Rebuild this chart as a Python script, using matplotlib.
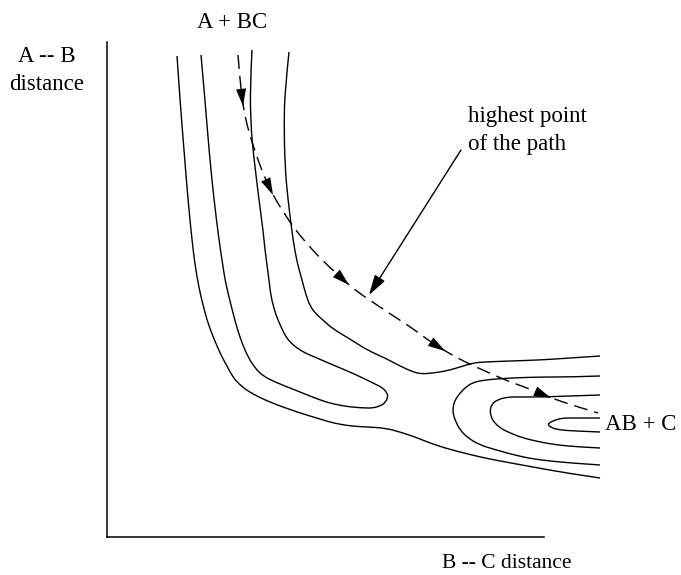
import numpy as np
import matplotlib
matplotlib.use("Agg")
import matplotlib.pyplot as plt
from matplotlib.path import Path
from matplotlib.patches import PathPatch

plt.rcParams['font.family'] = ['Liberation Serif', 'DejaVu Serif']

##
## Traced contour lines (x = B--C distance, y = A--B distance, picture units)
##
# outer contour, from the top down and out to the right
c1_x = [177, 180, 184, 188, 192, 195, 199, 203, 207, 212, 217, 222, 228, 233, 238, 245,
        253, 265, 280, 300, 320, 333, 350, 367, 385, 400, 415, 425, 433, 445, 460, 480,
        500, 533, 566, 600]
c1_y = [56, 100, 150, 200, 240, 265, 288, 305, 320, 334, 346, 357, 368, 377, 383, 389,
        394, 400, 406, 413, 419, 423, 426, 427, 428, 432, 437, 441, 444, 448, 452, 457,
        461, 467, 473, 478]

# the "finger": down one side, round the tip, back up the other
c2_x = [201, 205, 209, 214, 219, 222, 225, 229, 233, 237, 242, 248, 255, 263, 275, 290,
        305, 320, 333, 350, 365, 373, 380, 385, 388, 387, 383, 375, 367, 350, 333, 317,
        305, 297, 291, 286, 282, 278, 275, 271, 269, 267, 265, 263, 259, 255, 252, 251,
        250, 252]
c2_y = [55, 100, 150, 200, 240, 260, 280, 297, 313, 328, 343, 357, 368, 376, 382, 388,
        394, 400, 404, 407, 408, 408, 406, 403, 397, 393, 388, 384, 380, 372, 365, 358,
        353, 348, 343, 337, 329, 320, 312, 297, 280, 265, 250, 230, 200, 167, 140, 123,
        90, 50]

# contour running through the col
c4_x = [289, 285, 284, 285, 288, 293, 297, 302, 306, 310, 316, 324, 333, 350, 367, 385,
        400, 413, 422, 432, 440, 450, 460, 473, 483, 510, 540, 570, 600]
c4_y = [52, 90, 123, 167, 200, 240, 262, 280, 295, 306, 314, 321, 329, 339, 350, 358,
        366, 372, 374, 373, 372, 370, 367, 363, 362, 361, 360, 358, 356]

# the three contours of the AB + C valley
c5_x = [600, 570, 540, 510, 483, 472, 466, 460, 455, 453, 453, 455, 460, 468, 480, 493,
        507, 523, 540, 570, 600]
c5_y = [376, 377, 377, 378, 380, 383, 387, 393, 400, 407, 413, 420, 430, 438, 445, 449,
        453, 457, 460, 463, 465]

c6_x = [600, 570, 540, 520, 507, 497, 492, 490, 491, 493, 500, 510, 523, 540, 557, 580, 600]
c6_y = [395, 396, 397, 397, 397, 400, 404, 410, 416, 421, 428, 433, 438, 442, 445, 447, 448]

c7_x = [600, 575, 563, 555, 549, 548, 552, 560, 575, 600]
c7_y = [418, 418, 418, 420, 423, 425, 428, 430, 431, 432]

contours = [(c1_x, c1_y), (c2_x, c2_y), (c4_x, c4_y), (c5_x, c5_y), (c6_x, c6_y), (c7_x, c7_y)]

# reaction path (dashed) and where its arrowheads sit (index into the path)
path_x = [238, 240, 243, 247, 252, 258, 265, 273, 282, 294, 308, 322, 336, 349, 362,
          377, 395, 412, 428, 445, 465, 485, 505, 530, 551, 575, 598]
path_y = [55, 80, 106, 125, 142, 160, 178, 195, 210, 228, 245, 260, 273, 285, 295,
          305, 317, 328, 340, 351, 362, 371, 380, 389, 398, 406, 413]
path_heads = [2, 7, 13, 19, 24]

# "highest point of the path" pointer
pointer_from = (461, 150)
pointer_to = (369, 295)


def smooth_path(xs, ys):
    # quadratic B-spline through the traced points, drawn by matplotlib's own curves
    pts = list(zip(xs, ys))
    verts = [pts[0]]
    codes = [Path.MOVETO]
    for i in range(1, len(pts) - 1):
        nxt = pts[i + 1] if i == len(pts) - 2 else ((pts[i][0] + pts[i + 1][0]) / 2,
                                                    (pts[i][1] + pts[i + 1][1]) / 2)
        verts += [pts[i], nxt]
        codes += [Path.CURVE3, Path.CURVE3]
    return Path(verts, codes)


fig = plt.figure(figsize=(6.81, 5.75), dpi=100)
W, H = 681, 575
# axes box covers the drawn frame; data units are picture pixels
x0, x1, y0, y1 = 107, 544, 42, 537
ax = fig.add_axes([x0 / W, 1 - y1 / H, (x1 - x0) / W, (y1 - y0) / H])
ax.set_xlim(x0, x1)
ax.set_ylim(y1, y0)
ax.set_xticks([])
ax.set_yticks([])
ax.spines['top'].set_visible(False)
ax.spines['right'].set_visible(False)
ax.spines['left'].set_linewidth(1.1)
ax.spines['bottom'].set_linewidth(1.1)
ax.patch.set_alpha(0)

for cx, cy in contours:
    ax.add_patch(PathPatch(smooth_path(cx, cy), fill=False, edgecolor='black',
                           lw=1.0, clip_on=False))

ax.add_patch(PathPatch(smooth_path(path_x, path_y), fill=False, edgecolor='black',
                       lw=1.0, linestyle=(0, (10, 5)), clip_on=False))
for i in path_heads:
    ax.annotate('', xy=(path_x[i], path_y[i]), xytext=(path_x[i - 1], path_y[i - 1]),
                arrowprops=dict(arrowstyle='-|>,head_length=0.95,head_width=0.28',
                                color='black', lw=0, shrinkA=0, shrinkB=0,
                                mutation_scale=13),
                annotation_clip=False)

ax.annotate('', xy=pointer_to, xytext=pointer_from,
            arrowprops=dict(arrowstyle='-|>,head_length=0.95,head_width=0.28',
                            color='black', lw=1.0, shrinkA=0, shrinkB=0,
                            mutation_scale=13),
            annotation_clip=False)

fs = 16.5
ax.text(232, 22, 'A + BC', fontsize=fs, ha='center', va='center')
ax.text(47, 57, 'A -- B', fontsize=fs, ha='center', va='center')
ax.text(47, 84, 'distance', fontsize=fs, ha='center', va='center')
ax.text(507, 563, 'B -- C distance', fontsize=15.5, ha='center', va='center')
ax.text(468, 122, 'highest point', fontsize=fs, ha='left', va='baseline')
ax.text(468, 150, 'of the path', fontsize=fs, ha='left', va='baseline')
ax.text(605, 424, 'AB + C', fontsize=fs, ha='left', va='center')

fig.savefig('out.png', dpi=100, facecolor='white')
